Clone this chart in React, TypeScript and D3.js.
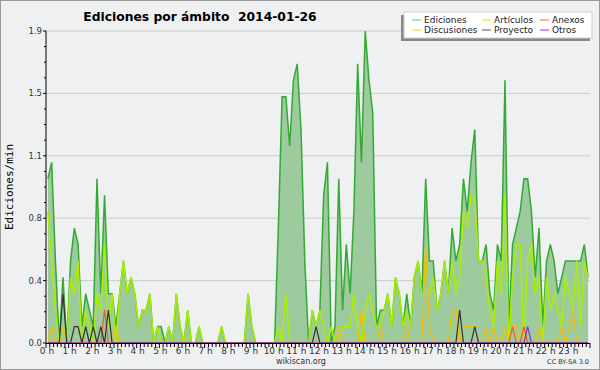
import React from "react";
import * as d3 from "d3";

// 10-minute bins, edits per minute (0h00 .. 23h50)
const ediciones = [
  1.0, 1.1, 0.5, 0.0, 0.4, 0.0, 0.5, 0.7, 0.6, 0.1, 0.3, 0.2,
  0.1, 1.0, 0.3, 0.9, 0.3, 0.3, 0.1, 0.3, 0.5, 0.3, 0.4, 0.3,
  0.1, 0.2, 0.2, 0.3, 0.0, 0.1, 0.1, 0.0, 0.1, 0.0, 0.3, 0.1,
  0.0, 0.2, 0.0, 0.0, 0.1, 0.0, 0.0, 0.0, 0.0, 0.0, 0.1, 0.0,
  0.0, 0.0, 0.0, 0.0, 0.0, 0.3, 0.1, 0.0, 0.0, 0.0, 0.0, 0.0,
  0.0, 0.7, 1.5, 1.5, 1.2, 1.6, 1.7, 1.3, 0.5, 0.0, 0.2, 0.1,
  0.2, 0.9, 1.1, 0.0, 0.1, 1.0, 0.2, 0.6, 0.3, 0.8, 1.7, 1.1,
  1.9, 1.6, 1.4, 0.1, 0.2, 0.2, 0.3, 0.1, 0.4, 0.3, 0.1, 0.3,
  0.1, 0.4, 0.5, 0.3, 1.0, 0.5, 0.5, 0.2, 0.3, 0.5, 0.3, 0.7,
  0.5, 0.6, 1.0, 0.8, 1.1, 1.3, 0.5, 0.5, 0.6, 0.3, 0.2, 0.6,
  0.5, 1.6, 0.1, 0.6, 0.7, 0.8, 1.0, 1.0, 0.8, 0.4, 0.7, 0.1,
  0.5, 0.6, 0.5, 0.3, 0.4, 0.5, 0.5, 0.5, 0.5, 0.5, 0.6, 0.4,
];

const articulos = [
  0.8, 0.5, 0.2, 0.0, 0.0, 0.0, 0.4, 0.3, 0.5, 0.0, 0.2, 0.1,
  0.0, 0.3, 0.2, 0.6, 0.1, 0.3, 0.0, 0.3, 0.5, 0.3, 0.4, 0.3,
  0.1, 0.2, 0.2, 0.3, 0.0, 0.1, 0.0, 0.0, 0.1, 0.0, 0.3, 0.1,
  0.0, 0.2, 0.0, 0.0, 0.1, 0.0, 0.0, 0.0, 0.0, 0.0, 0.1, 0.0,
  0.0, 0.0, 0.0, 0.0, 0.0, 0.3, 0.1, 0.0, 0.0, 0.0, 0.0, 0.0,
  0.0, 0.1, 0.0, 0.3, 0.0, 0.0, 0.0, 0.0, 0.0, 0.0, 0.2, 0.1,
  0.2, 0.1, 0.0, 0.1, 0.0, 0.0, 0.1, 0.1, 0.1, 0.3, 0.1, 0.0,
  0.2, 0.3, 0.2, 0.1, 0.1, 0.2, 0.3, 0.1, 0.4, 0.3, 0.1, 0.2,
  0.1, 0.4, 0.5, 0.3, 0.3, 0.3, 0.4, 0.2, 0.3, 0.5, 0.3, 0.5,
  0.3, 0.4, 0.8, 0.7, 0.9, 0.9, 0.5, 0.5, 0.4, 0.2, 0.1, 0.5,
  0.3, 0.9, 0.0, 0.4, 0.6, 0.6, 0.0, 0.5, 0.6, 0.3, 0.4, 0.0,
  0.4, 0.2, 0.3, 0.2, 0.1, 0.4, 0.3, 0.2, 0.5, 0.1, 0.5, 0.4,
];

// sparse series: [bin index, value]
const discusiones: [number, number][] = [
  [1, 0.1], [4, 0.1], [18, 0.1], [77, 0.1], [83, 0.2], [88, 0.1], [95, 0.1],
  [100, 0.6], [101, 0.1], [107, 0.2], [108, 0.2], [110, 0.1], [111, 0.1],
  [112, 0.1], [113, 0.1], [116, 0.1], [118, 0.1], [121, 0.1], [123, 0.1],
  [124, 0.1], [130, 0.1], [136, 0.1], [138, 0.1], [139, 0.2],
];
const proyecto: [number, number][] = [
  [4, 0.3], [7, 0.1], [8, 0.1], [10, 0.1], [12, 0.1], [14, 0.1], [16, 0.2],
  [71, 0.1], [109, 0.2], [113, 0.1],
];
const anexos: [number, number][] = [[15, 0.2], [123, 0.1], [126, 0.1]];
const otros: [number, number][] = [[127, 0.1]];

const hourLabels = d3.range(0, 24).map((h) => `${h} h`);
const yTicks = d3.range(0, 6).map((k) => k * 0.38);

const legendItems = [
  { label: "Ediciones", color: "#66cc66" },
  { label: "Artículos", color: "#bbee22" },
  { label: "Anexos", color: "#ff6633" },
  { label: "Discusiones", color: "#ffcc33" },
  { label: "Proyecto", color: "#555555" },
  { label: "Otros", color: "#9933ff" },
];

const dense = (pairs: [number, number][]) => {
  const arr = new Array(144).fill(0);
  pairs.forEach(([i, v]) => (arr[i] = v));
  return arr;
};

const W = 600;
const H = 370;
const font = "DejaVu Sans, sans-serif";

export default function App() {
  const x = d3.scaleLinear().domain([0, 24]).range([46, 590]);
  const y = d3.scaleLinear().domain([0, 1.9]).range([343, 31]);
  const xi = (i: number) => x((i + 0.5) / 6);

  const area = d3
    .area<number>()
    .x((_, i) => xi(i))
    .y0(y(0))
    .y1((d) => y(d));
  const line = d3
    .line<number>()
    .x((_, i) => xi(i))
    .y((d) => y(d));

  const topSeries = [
    { data: articulos, color: "#aaee00", w: 1.5 },
    { data: dense(discusiones), color: "#f5c000", w: 1.2 },
    { data: dense(anexos), color: "#ff5522", w: 1.2 },
    { data: dense(proyecto), color: "#333333", w: 1.2 },
    { data: dense(otros), color: "#8a2be2", w: 1.2 },
  ];

  const minorX = d3.range(0, 24 * 6 + 1).map((k) => k / 6);
  const minorY = d3.range(0, 21).map((k) => k * 0.095);

  return (
    <>
      <style>{`body{margin:0}`}</style>
      <svg width={W} height={H} style={{ display: "block" }}>
        <rect x={0.5} y={0.5} width={W - 1} height={H - 1} fill="#eff0f1" stroke="#9a9a9a" />

        {/* grid */}
        {yTicks.slice(1).map((t) => (
          <line key={t} x1={46} x2={590} y1={y(t)} y2={y(t)} stroke="#cccccc" />
        ))}

        {/* data */}
        <path d={area(ediciones) || ""} fill="#9dcb9d" />
        <path d={line(ediciones) || ""} fill="none" stroke="#33aa33" strokeWidth={1.5} />
        {topSeries.map((s, k) => (
          <path key={k} d={line(s.data) || ""} fill="none" stroke={s.color} strokeWidth={s.w} />
        ))}

        {/* y axis */}
        <line x1={46} x2={46} y1={y(1.9)} y2={y(0)} stroke="#000" />
        {minorY.map((t, k) => (
          <line key={k} x1={k % 4 === 0 ? 43 : 44} x2={46} y1={y(t)} y2={y(t)} stroke="#000" />
        ))}
        {yTicks.map((t) => (
          <text key={t} x={42} y={y(t) + 3} textAnchor="end" fontFamily={font} fontSize={8.5} fill="#333">
            {t.toFixed(1)}
          </text>
        ))}
        <text
          transform={`translate(13,${(y(0) + y(1.9)) / 2}) rotate(-90)`}
          textAnchor="middle"
          fontFamily="DejaVu Sans Mono, monospace"
          fontSize={11}
          fill="#000"
        >
          Ediciones/min
        </text>

        {/* x axis */}
        <line x1={46} x2={590} y1={343.5} y2={343.5} stroke="#000" />
        {minorX.map((t, k) => (
          <line key={k} x1={x(t)} x2={x(t)} y1={343} y2={k % 6 === 0 ? 348 : 347} stroke="#000" />
        ))}
        {hourLabels.map((l, h) => (
          <text key={l} x={x(h) + 1} y={354} textAnchor="middle" fontFamily={font} fontSize={9} fill="#333">
            {l}
          </text>
        ))}

        {/* title */}
        <text x={200} y={21} textAnchor="middle" fontFamily={font} fontWeight="bold" fontSize={12.3} style={{ whiteSpace: "pre" }}>
          {"Ediciones por ámbito  2014-01-26"}
        </text>

        {/* legend */}
        <rect x={401} y={15} width={189} height={26} fill="#888" />
        <rect x={404} y={12} width={188} height={26} fill="#fff" stroke="#d0d0d0" />
        {legendItems.map((it, k) => {
          const col = k % 3;
          const row = Math.floor(k / 3);
          const lx = [412, 482, 540][col];
          const ly = 20 + row * 10;
          return (
            <g key={it.label}>
              <line x1={lx} x2={lx + 9} y1={ly} y2={ly} stroke={it.color} />
              <text x={lx + 12} y={ly + 3} fontFamily={font} fontSize={9} fill="#222">
                {it.label}
              </text>
            </g>
          );
        })}

        {/* footer */}
        <text x={301} y={364} textAnchor="middle" fontFamily={font} fontSize={8} fill="#333">
          wikiscan.org
        </text>
        <text x={589} y={364} textAnchor="end" fontFamily={font} fontSize={6.5} fill="#333">
          CC BY-SA 3.0
        </text>
      </svg>
    </>
  );
}
